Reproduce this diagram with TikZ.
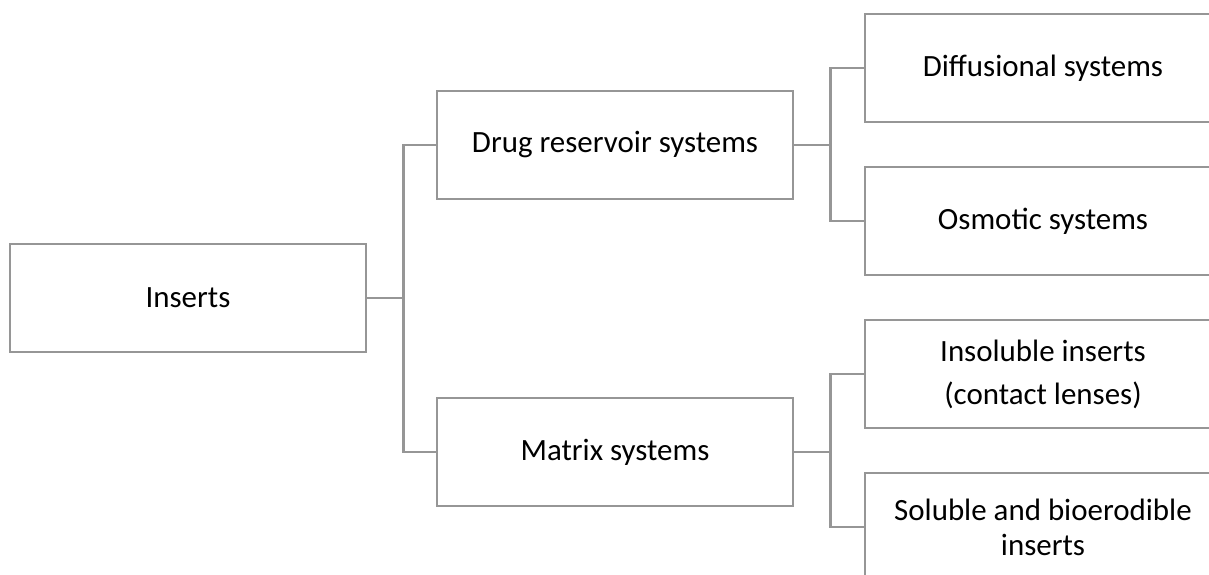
\documentclass[tikz,border=0pt]{standalone}
\usepackage{fontspec}
\setmainfont{Carlito}
\usepackage{tikz}

\begin{document}
\begin{tikzpicture}[
  box/.style={draw=linegray, line width=1.5pt, minimum width=7.12cm, minimum height=2.16cm,
    align=center, font=\fontsize{17.6}{20}\selectfont, inner sep=0pt},
  link/.style={draw=linegray, line width=1.5pt}
]
\definecolor{linegray}{RGB}{150,150,150}
\useasboundingbox (0,0) rectangle (24.18,11.5);
\clip (0,0) rectangle (24.18,11.5);
\node[box] (ins) at ( 3.76 , 5.54 ) {Inserts};
\node[box] (drug) at ( 12.30 , 8.60 ) {Drug reservoir systems};
\node[box] (matrix) at ( 12.30 , 2.46 ) {Matrix systems};
\node[box] (diff) at ( 20.86 , 10.14 ) {Diffusional systems};
\node[box] (osm) at ( 20.86 , 7.08 ) {Osmotic systems};
\node[box] (insol) at ( 20.86 , 4.02 ) {Insoluble inserts\\[4.5pt](contact lenses)};
\node[box] (sol) at ( 20.86 , 0.96 ) {Soluble and bioerodible\\inserts};
\draw[link] (ins.east) -- ++(0.72,0) |- (drug.west);
\draw[link] (ins.east) -- ++(0.72,0) |- (matrix.west);
\draw[link] (drug.east) -- ++(0.72,0) |- (diff.west);
\draw[link] (drug.east) -- ++(0.72,0) |- (osm.west);
\draw[link] (matrix.east) -- ++(0.72,0) |- (insol.west);
\draw[link] (matrix.east) -- ++(0.72,0) |- (sol.west);

\end{tikzpicture}
\end{document}
